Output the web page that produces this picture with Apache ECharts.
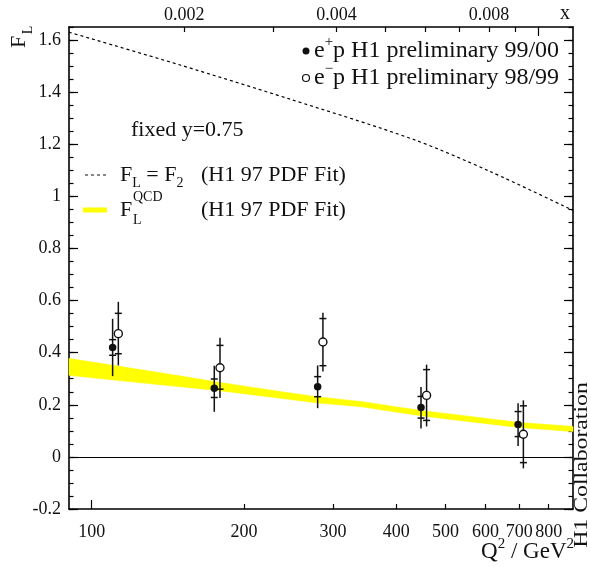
<!DOCTYPE html>
<html>
<head>
<meta charset="utf-8">
<script src="https://cdn.jsdelivr.net/npm/echarts@6/dist/echarts.min.js"></script>
<style>
  html, body { margin: 0; padding: 0; background: #fff; }
  #chart { width: 590px; height: 567px; }
</style>
</head>
<body>
<div id="chart"></div>
<script>
const FONT = '"Liberation Serif", "Times New Roman", serif';

// Q^2 range of the plot (GeV^2); Bjorken x = Q^2 / q2PerX at fixed y = 0.75
const q2Range = [90.2, 893.6];
const q2PerX = 76200;

// e+p H1 preliminary 99/00 (filled points): value, stat. error limits, total error limits
const epQ2     = [110, 174.7, 279.6, 447.5, 696];
const epFL     = [0.42, 0.263, 0.269, 0.19, 0.124];
const epStatLo = [0.39, 0.228, 0.231, 0.149, 0.078];
const epStatHi = [0.45, 0.299, 0.308, 0.232, 0.174];
const epTotLo  = [0.31, 0.173, 0.187, 0.109, 0.042];
const epTotHi  = [0.53, 0.35, 0.351, 0.268, 0.206];

// e-p H1 preliminary 98/99 (open points)
const emQ2     = [112.9, 179.3, 286.4, 459, 713];
const emFL     = [0.473, 0.342, 0.441, 0.236, 0.087];
const emStatLo = [0.396, 0.26, 0.35, 0.14, -0.022];
const emStatHi = [0.551, 0.428, 0.531, 0.335, 0.196];
const emTotLo  = [0.351, 0.226, 0.328, 0.117, -0.044];
const emTotHi  = [0.595, 0.457, 0.553, 0.354, 0.217];

// F_L^QCD band (H1 97 PDF fit)
const qcdQ2    = [90.2, 120, 150, 179, 230, 280, 339, 447, 560, 700, 893.6];
const qcdUpper = [0.378, 0.340, 0.310, 0.286, 0.254, 0.230, 0.213, 0.178, 0.155, 0.132, 0.117];
const qcdLower = [0.313, 0.288, 0.269, 0.254, 0.228, 0.207, 0.193, 0.158, 0.135, 0.113, 0.097];

// F_L = F_2 limit (H1 97 PDF fit)
const f2Q2 = [90.2, 149.6, 246.6, 431.5, 612, 893.6];
const f2FL = [1.630, 1.504, 1.373, 1.219, 1.096, 0.946];

// tick marks and labels
const q2Labels      = [100, 200, 300, 400, 500, 600, 700, 800];
const q2ShortTicks  = [200, 300, 400, 500, 600, 700, 800];
const q2LongTicks   = [100];
const xLabels       = [0.002, 0.004, 0.008];
const xShortTicks   = [0.002, 0.003, 0.004, 0.005, 0.006, 0.007, 0.008, 0.009];
const xLongTicks    = [0.01];
const yLabels       = [-0.2, 0, 0.2, 0.4, 0.6, 0.8, 1, 1.2, 1.4, 1.6];
const yRange        = [-0.2, 1.65];

const black = '#000';
const tickLabel = { fontFamily: FONT, fontSize: 18, color: '#111' };

function logAxis(position, min, max, tickValues, tickLen, labels, fmt, showLine) {
  return {
    type: 'log', position, min, max, logBase: 10,
    axisLine: { show: showLine, onZero: false, lineStyle: { color: black, width: 1.6 } },
    axisTick: { show: true, inside: true, length: tickLen, customValues: tickValues,
                lineStyle: { color: black, width: 1.2 } },
    axisLabel: labels ? Object.assign({ show: true, customValues: labels, formatter: fmt,
                margin: position === 'top' ? 3 : 14 }, tickLabel) : { show: false },
    minorTick: { show: false }, splitLine: { show: false }
  };
}

function valAxis(position, interval, tickLen, tickValues, labels, showLine) {
  const ax = {
    type: 'value', position, min: yRange[0], max: yRange[1],
    axisLine: { show: showLine, onZero: false, lineStyle: { color: black, width: 1.6 } },
    axisTick: { show: true, inside: true, length: tickLen, lineStyle: { color: black, width: 1.2 } },
    axisLabel: { show: false },
    splitLine: { show: false }
  };
  if (interval) ax.interval = interval;
  if (tickValues) ax.axisTick.customValues = tickValues;
  if (labels) {
    ax.axisLabel = Object.assign({ show: true, customValues: labels, margin: 8,
      formatter: v => String(Math.round(v * 10) / 10) }, tickLabel);
  }
  return ax;
}

function errorBars(q2, lo, hi, sLo, sHi) {
  return {
    type: 'custom', xAxisIndex: 0, yAxisIndex: 0, z: 4, clip: false,
    data: q2.map((q, i) => [q, lo[i], hi[i], sLo[i], sHi[i]]),
    encode: { x: 0, y: [1, 2] },
    renderItem(params, api) {
      const q = api.value(0);
      const a = api.coord([q, api.value(1)]);
      const b = api.coord([q, api.value(2)]);
      const s1 = api.coord([q, api.value(3)]);
      const s2 = api.coord([q, api.value(4)]);
      const st = { stroke: '#111', lineWidth: 1.5 };
      const w = 3.5;
      return { type: 'group', children: [
        { type: 'line', shape: { x1: a[0], y1: a[1], x2: b[0], y2: b[1] }, style: st },
        { type: 'line', shape: { x1: s1[0] - w, y1: s1[1], x2: s1[0] + w, y2: s1[1] }, style: st },
        { type: 'line', shape: { x1: s2[0] - w, y1: s2[1], x2: s2[0] + w, y2: s2[1] }, style: st }
      ] };
    }
  };
}

// the QCD band as a chain of quadrilaterals between neighbouring Q^2 points
const bandSegments = qcdQ2.slice(0, -1).map((q, i) =>
  [q, qcdLower[i], qcdUpper[i], qcdQ2[i + 1], qcdLower[i + 1], qcdUpper[i + 1]]);

const richBase = {
  n:   { fontFamily: FONT, fontSize: 22, lineHeight: 30, fill: '#111' },
  sup: { fontFamily: FONT, fontSize: 14, lineHeight: 14, verticalAlign: 'top', fill: '#111' },
  sub: { fontFamily: FONT, fontSize: 14, lineHeight: 14, verticalAlign: 'bottom', fill: '#111' }
};
const richLegend = {
  n:   { fontFamily: FONT, fontSize: 24, lineHeight: 32, fill: '#111' },
  sup: { fontFamily: FONT, fontSize: 15, lineHeight: 15, verticalAlign: 'top', fill: '#111' }
};
const richTitle = {
  n:   { fontFamily: FONT, fontSize: 23, lineHeight: 30, fill: '#111' },
  sup: { fontFamily: FONT, fontSize: 15, lineHeight: 15, verticalAlign: 'top', fill: '#111' }
};

function txt(x, y, text, size, extra) {
  const el = {
    type: 'text', x, y, z: 20,
    style: { text, fontFamily: FONT, fontSize: size, fill: '#111', align: 'left', verticalAlign: 'middle' }
  };
  if (extra) {
    Object.assign(el.style, extra.style || {});
    ['rotation', 'scaleX', 'scaleY'].forEach(k => { if (k in extra) el[k] = extra[k]; });
  }
  return el;
}
function richTxt(x, y, text, rich, align) {
  return { type: 'text', x, y, z: 20,
    style: { text, rich, align: align || 'left', verticalAlign: 'middle' } };
}

const chart = echarts.init(document.getElementById('chart'), null, { renderer: 'canvas' });

chart.setOption({
  animation: false,
  backgroundColor: '#fff',
  grid: { left: 69, right: 17, top: 27, bottom: 58, outerBoundsMode: 'none', containLabel: false },
  xAxis: [
    logAxis('bottom', q2Range[0], q2Range[1], q2ShortTicks, 5, q2Labels, v => String(Math.round(v)), true),
    logAxis('bottom', q2Range[0], q2Range[1], q2LongTicks, 9, null, null, false),
    logAxis('top', q2Range[0] / q2PerX, q2Range[1] / q2PerX, xShortTicks, 5, xLabels, v => v.toFixed(3), true),
    logAxis('top', q2Range[0] / q2PerX, q2Range[1] / q2PerX, xLongTicks, 9, null, null, false)
  ],
  yAxis: [
    valAxis('left', 0.05, 4.5, null, null, true),
    valAxis('left', null, 9, yLabels, yLabels, false),
    valAxis('right', 0.05, 4.5, null, null, true),
    valAxis('right', null, 9, yLabels, null, false)
  ],
  series: [
    {
      type: 'custom', name: 'F_L QCD', xAxisIndex: 0, yAxisIndex: 0, z: 2,
      data: bandSegments,
      encode: { x: [0, 3], y: [1, 2, 4, 5] },
      renderItem(params, api) {
        const p1 = api.coord([api.value(0), api.value(2)]);
        const p2 = api.coord([api.value(3), api.value(5)]);
        const p3 = api.coord([api.value(3), api.value(4)]);
        const p4 = api.coord([api.value(0), api.value(1)]);
        return {
          type: 'polygon',
          shape: { points: [p1, p2, p3, p4] },
          style: { fill: '#ffff00', stroke: '#ffff00', lineWidth: 0.6 }
        };
      }
    },
    {
      type: 'line', name: 'FL=F2', symbol: 'none', smooth: 0.3, z: 3,
      data: f2Q2.map((q, i) => [q, f2FL[i]]),
      lineStyle: { color: black, width: 1.2, type: [3, 3] },
      markLine: {
        silent: true, symbol: ['none', 'none'], label: { show: false },
        lineStyle: { color: black, width: 1.2, type: 'solid' },
        data: [{ yAxis: 0 }]
      }
    },
    errorBars(epQ2, epTotLo, epTotHi, epStatLo, epStatHi),
    errorBars(emQ2, emTotLo, emTotHi, emStatLo, emStatHi),
    {
      type: 'scatter', name: 'e+p', z: 5, symbol: 'circle', symbolSize: 7.5,
      data: epQ2.map((q, i) => [q, epFL[i]]),
      itemStyle: { color: '#111', opacity: 1 }
    },
    {
      type: 'scatter', name: 'e-p', z: 5, symbol: 'circle', symbolSize: 8,
      data: emQ2.map((q, i) => [q, emFL[i]]),
      itemStyle: { color: '#fff', borderColor: '#111', borderWidth: 1.4, opacity: 1 }
    }
  ],
  graphic: [
    // axis titles
    txt(19, 42, 'F', 22, { rotation: Math.PI / 2, style: { align: 'center' } }),
    txt(28, 30, 'L', 14, { rotation: Math.PI / 2, style: { align: 'center' } }),
    txt(565, 14, 'x', 20, { style: { align: 'center' } }),
    richTxt(574, 552, '{n|Q}{sup|2}{n| / GeV}{sup|2}', richTitle, 'right'),
    txt(582, 465, 'H1 Collaboration', 19, { rotation: Math.PI / 2, scaleX: 1.25, style: { align: 'center' } }),

    // data legend
    { type: 'circle', shape: { cx: 306, cy: 51, r: 3.5 }, style: { fill: '#111' }, z: 20 },
    richTxt(314, 51, '{n|e}{sup|+}{n|p H1 preliminary 99/00}', richLegend),
    { type: 'circle', shape: { cx: 306, cy: 78, r: 3.5 }, style: { fill: '#fff', stroke: '#111', lineWidth: 1.2 }, z: 20 },
    richTxt(314, 78, '{n|e}{sup|\u2212}{n|p H1 preliminary 98/99}', richLegend),

    txt(131, 130, 'fixed y=0.75', 22),

    // curve legend
    { type: 'line', shape: { x1: 85, y1: 175, x2: 107, y2: 175 }, style: { stroke: '#111', lineWidth: 1.2, lineDash: [3, 3] }, z: 20 },
    richTxt(120, 175, '{n|F}{sub|L}{n| = F}{sub|2}', richBase),
    txt(201, 175, '(H1 97 PDF Fit)', 22),
    { type: 'line', shape: { x1: 83, y1: 210, x2: 107, y2: 210 }, style: { stroke: '#ffff00', lineWidth: 5 }, z: 20 },
    txt(120, 210, 'F', 22),
    txt(133, 197, 'QCD', 14),
    txt(133, 220, 'L', 14),
    txt(201, 210, '(H1 97 PDF Fit)', 22)
  ]
});
</script>
</body>
</html>
